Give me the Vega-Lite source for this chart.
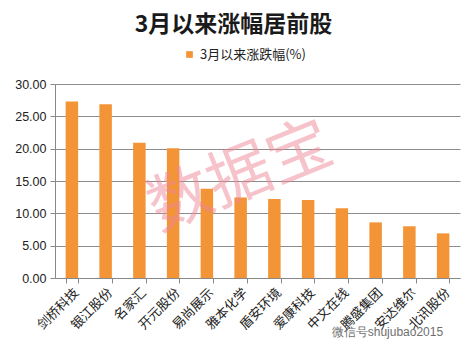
{
  "$schema": "https://vega.github.io/schema/vega-lite/v6.json",
  "width": 405,
  "height": 194,
  "autosize": "none",
  "padding": {"left": 55, "top": 84, "right": 5, "bottom": 75},
  "background": "white",
  "title": {
    "text": "3月以来涨幅居前股",
    "font": "Noto Sans CJK SC",
    "fontSize": 23,
    "fontWeight": "bold",
    "color": "#1a1a1a",
    "anchor": "middle",
    "frame": "group",
    "dx": -24,
    "offset": 11
  },
  "config": {
    "view": {"stroke": null},
    "font": "Noto Sans CJK SC"
  },
  "encoding": {
    "x": {
      "field": "name",
      "type": "nominal",
      "sort": null,
      "scale": {"paddingInner": 0.63, "paddingOuter": 0.315},
      "axis": {
        "title": null,
        "labelAngle": -45,
        "labelFont": "Noto Sans CJK SC",
        "labelFontSize": 13,
        "labelColor": "#222222",
        "labelPadding": 3,
        "tickBand": "extent",
        "tickSize": 5,
        "tickColor": "#888888",
        "domainColor": "#888888",
        "grid": false
      }
    },
    "y": {
      "field": "value",
      "type": "quantitative",
      "scale": {"domain": [0, 30], "nice": false},
      "axis": {
        "title": null,
        "values": [0, 5, 10, 15, 20, 25, 30],
        "format": ".2f",
        "labelOverlap": false,
        "labelFont": "Liberation Sans",
        "labelFontSize": 12.5,
        "labelColor": "#222222",
        "labelPadding": 4,
        "tickSize": 5,
        "tickColor": "#888888",
        "domainColor": "#888888",
        "gridColor": "#8c8c8c",
        "gridWidth": 1
      }
    }
  },
  "layer": [
    {
      "data": {
        "values": [
          {"name": "剑桥科技", "value": 27.3, "series": "3月以来涨跌幅(%)"},
          {"name": "银江股份", "value": 26.85, "series": "3月以来涨跌幅(%)"},
          {"name": "名家汇", "value": 20.9, "series": "3月以来涨跌幅(%)"},
          {"name": "开元股份", "value": 20.05, "series": "3月以来涨跌幅(%)"},
          {"name": "易尚展示", "value": 13.8, "series": "3月以来涨跌幅(%)"},
          {"name": "雅本化学", "value": 12.45, "series": "3月以来涨跌幅(%)"},
          {"name": "盾安环境", "value": 12.2, "series": "3月以来涨跌幅(%)"},
          {"name": "爱康科技", "value": 12.05, "series": "3月以来涨跌幅(%)"},
          {"name": "中文在线", "value": 10.8, "series": "3月以来涨跌幅(%)"},
          {"name": "腾盛集团", "value": 8.6, "series": "3月以来涨跌幅(%)"},
          {"name": "安达维尔", "value": 8.0, "series": "3月以来涨跌幅(%)"},
          {"name": "北讯股份", "value": 6.9, "series": "3月以来涨跌幅(%)"}
        ]
      },
      "mark": {"type": "bar"},
      "encoding": {
        "color": {
          "field": "series",
          "type": "nominal",
          "scale": {"range": ["#F39436"]},
          "legend": {
            "title": null,
            "orient": "none",
            "legendX": 128,
            "legendY": -36,
            "symbolType": "square",
            "symbolSize": 45,
            "symbolFillColor": "#F0A060",
            "labelFont": "Noto Sans CJK SC",
            "labelFontSize": 13,
            "labelColor": "#222222"
          }
        }
      }
    },
    {
      "data": {"values": [{"name": "雅本化学", "value": 15.5, "label": "数据宝"}]},
      "mark": {
        "type": "text",
        "fontSize": 64,
        "font": "Noto Sans CJK SC",
        "angle": -22,
        "color": "#ee8899",
        "opacity": 0.5,
        "align": "center",
        "baseline": "middle"
      },
      "encoding": {
        "text": {"field": "label"}
      }
    },
    {
      "data": {"values": [{"name": "北讯股份", "value": -8.4, "label": "微信号shujubao2015"}]},
      "mark": {
        "type": "text",
        "fontSize": 12,
        "font": "Liberation Sans",
        "color": "#555555",
        "opacity": 0.85,
        "align": "right",
        "baseline": "middle",
        "clip": false
      },
      "encoding": {
        "text": {"field": "label"}
      }
    }
  ]
}
